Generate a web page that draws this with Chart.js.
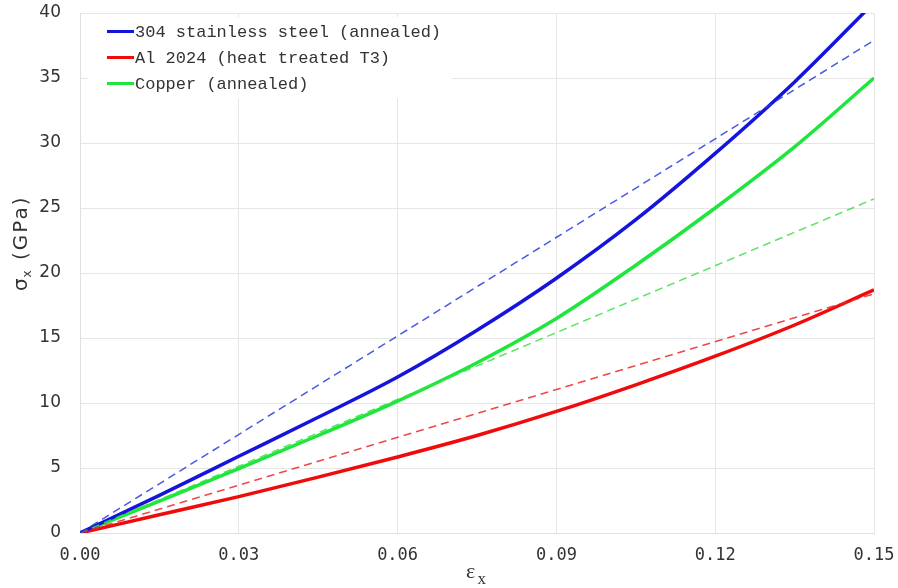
<!DOCTYPE html>
<html>
<head>
<meta charset="utf-8">
<title>Stress–strain curves</title>
<script src="https://cdn.jsdelivr.net/npm/chart.js@4/dist/chart.umd.min.js"></script>
<style>
  html, body { margin: 0; padding: 0; background: #fff; }
  #wrap { width: 898px; height: 588px; }
</style>
</head>
<body>
<div id="wrap"><canvas id="c" width="898" height="588"></canvas></div>
<script>
// Strain samples (εx) and true stress σx in GPa for each material
const strain = [0, 0.015, 0.03, 0.045, 0.06, 0.075, 0.09, 0.105, 0.12, 0.135, 0.15];
const steel304 = [0, 2.9, 5.9, 8.9, 12.0, 15.6, 19.6, 24.1, 29.2, 34.7, 40.8];
const al2024 = [0, 1.4, 2.8, 4.3, 5.85, 7.5, 9.35, 11.4, 13.6, 16.0, 18.7];
const copper = [0, 2.45, 4.95, 7.5, 10.15, 13.1, 16.5, 20.6, 25.0, 29.7, 35.0];

// Linear (small-strain) reference lines: end points at εx = 0 and 0.15
const linearStrain = [0, 0.15];
const steelLinear = [0, 37.9];
const alLinear = [0, 18.4];
const copperLinear = [0, 25.7];

const seriesLabels = ['304 stainless steel (annealed)', 'Al 2024 (heat treated T3)', 'Copper (annealed)'];
const xTickValues = [0, 0.03, 0.06, 0.09, 0.12, 0.15];
const yTickValues = [0, 5, 10, 15, 20, 25, 30, 35, 40];

const pts = (xs, ys) => xs.map((x, i) => ({ x: x, y: ys[i] }));

const solid = (label, ys, color) => ({
  label, data: pts(strain, ys), borderColor: color, backgroundColor: color,
  borderWidth: 3.5, pointRadius: 0, cubicInterpolationMode: 'monotone', showLine: true,
  inLegend: true
});
const dashed = (ys, color) => ({
  label: '', data: pts(linearStrain, ys), borderColor: color,
  borderWidth: 1.5, borderDash: [8, 5], pointRadius: 0, showLine: true, inLegend: false
});

// Keep tick labels from pushing the plot area inward
const noEdgePadding = s => {
  s.paddingTop = 0; s.paddingBottom = 0; s.paddingLeft = 0; s.paddingRight = 0;
};

// Legend drawn inside the plot, on a white box over the grid
const boxLegend = {
  id: 'boxLegend',
  afterDraw(chart) {
    const ctx = chart.ctx;
    ctx.save();
    ctx.fillStyle = '#ffffff';
    ctx.fillRect(88, 17, 364, 81);
    const rows = chart.data.datasets.filter(d => d.inLegend);
    ctx.font = '17px "Liberation Mono", "DejaVu Sans Mono", monospace';
    ctx.textBaseline = 'middle';
    ctx.textAlign = 'left';
    rows.forEach((d, i) => {
      const y = 31.5 + i * 26;
      ctx.strokeStyle = d.borderColor;
      ctx.lineWidth = 3;
      ctx.beginPath();
      ctx.moveTo(107, y);
      ctx.lineTo(134, y);
      ctx.stroke();
      ctx.fillStyle = '#333333';
      ctx.fillText(d.label, 135, y + 0.5);
    });
    ctx.restore();
  }
};

// Axis titles with subscripts
const axisTitles = {
  id: 'axisTitles',
  afterDraw(chart) {
    const ctx = chart.ctx;
    ctx.save();
    ctx.fillStyle = '#333333';
    ctx.textAlign = 'left';
    ctx.textBaseline = 'alphabetic';
    // y title, rotated
    ctx.translate(27, 291);
    ctx.rotate(-Math.PI / 2);
    ctx.font = '20px "DejaVu Sans", sans-serif';
    ctx.fillText('σ', 0, 0);
    ctx.font = '12px "DejaVu Sans", sans-serif';
    ctx.fillText('x', 13.5, 4);
    ctx.font = '20px "DejaVu Sans", sans-serif';
    ctx.letterSpacing = '2px';
    ctx.fillText('(GPa)', 31, 0);
    ctx.restore();

    ctx.save();
    ctx.fillStyle = '#333333';
    ctx.textBaseline = 'alphabetic';
    ctx.textAlign = 'left';
    ctx.font = '22px "Liberation Serif", "DejaVu Serif", serif';
    ctx.fillText('ε', 466, 578);
    ctx.font = '17px "Liberation Serif", "DejaVu Serif", serif';
    ctx.fillText('x', 477.5, 584);
    ctx.restore();
  }
};

new Chart(document.getElementById('c'), {
  type: 'scatter',
  data: {
    datasets: [
      dashed(steelLinear, 'rgba(40,60,225,0.85)'),
      dashed(alLinear, 'rgba(235,40,40,0.85)'),
      dashed(copperLinear, 'rgba(60,225,70,0.85)'),
      solid(seriesLabels[0], steel304, '#1414dc'),
      solid(seriesLabels[1], al2024, '#f00a0a'),
      solid(seriesLabels[2], copper, '#1ee63c')
    ]
  },
  options: {
    responsive: false,
    animation: false,
    devicePixelRatio: 1,
    layout: { padding: { left: 0, right: 24, top: 13, bottom: 0 } },
    plugins: { legend: { display: false }, tooltip: { enabled: false } },
    scales: {
      x: {
        type: 'linear', min: 0, max: 0.15,
        afterBuildTicks: s => { s.ticks = xTickValues.map(v => ({ value: v })); },
        afterFit: s => { s.height = 55; noEdgePadding(s); },
        ticks: {
          color: '#333333', padding: 12,
          font: { family: '"DejaVu Sans Mono", monospace', size: 17 },
          callback: v => Number(v).toFixed(2)
        },
        grid: { color: '#e6e6e6', lineWidth: 1, drawTicks: false },
        border: { color: '#e0e0e0' }
      },
      y: {
        type: 'linear', min: 0, max: 40,
        afterBuildTicks: s => { s.ticks = yTickValues.map(v => ({ value: v })); },
        afterFit: s => { s.width = 80; noEdgePadding(s); },
        ticks: {
          color: '#333333', padding: 19,
          font: { family: '"DejaVu Sans", sans-serif', size: 17 }
        },
        grid: { color: '#e6e6e6', lineWidth: 1, drawTicks: false },
        border: { color: '#e0e0e0' }
      }
    }
  },
  plugins: [boxLegend, axisTitles]
});
</script>
</body>
</html>
